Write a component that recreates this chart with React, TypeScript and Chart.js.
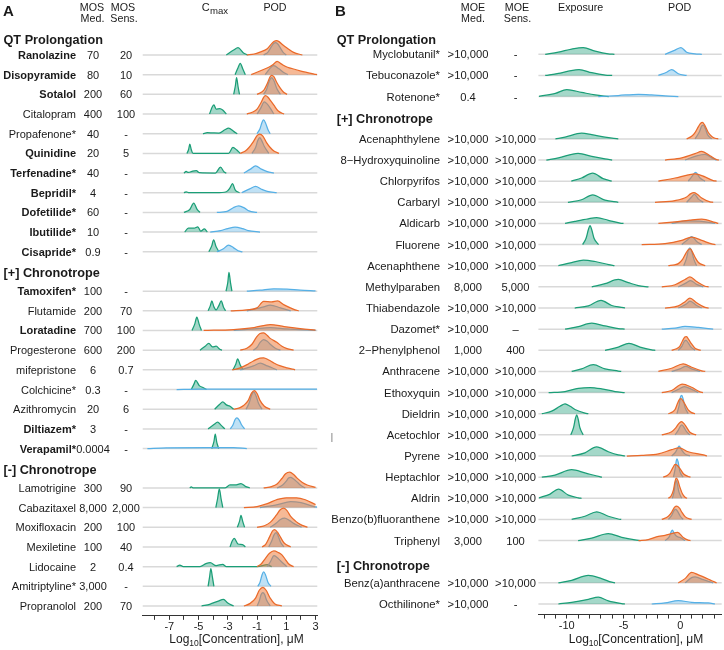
import { useEffect, useRef } from 'react';
import { Chart, registerables } from 'chart.js';

Chart.register(...registerables);

const FONT = "'Liberation Sans', Arial, Helvetica, sans-serif";

type Pt = [number, number];
type Curve = Pt[] | null;

// ---------------- Panel A data ----------------
const aSections = ['QT Prolongation', '[+] Chronotrope', '[-] Chronotrope'];
const aSectionSizes = [11, 9, 7];
const aNames = [
  'Ranolazine', 'Disopyramide', 'Sotalol', 'Citalopram', 'Propafenone*', 'Quinidine', 'Terfenadine*',
  'Bepridil*', 'Dofetilide*', 'Ibutilide*', 'Cisapride*',
  'Tamoxifen*', 'Flutamide', 'Loratadine', 'Progesterone', 'mifepristone', 'Colchicine*', 'Azithromycin',
  'Diltiazem*', 'Verapamil*',
  'Lamotrigine', 'Cabazitaxel', 'Moxifloxacin', 'Mexiletine', 'Lidocaine', 'Amitriptyline*', 'Propranolol',
];
const aBold = [
  true, true, true, false, false, true, true, true, true, true, true,
  true, false, true, false, false, false, false, true, true,
  false, false, false, false, false, false, false,
];
const aMosMed = ['70', '80', '200', '400', '40', '20', '40', '4', '60', '10', '0.9',
  '100', '200', '700', '600', '6', '0.3', '20', '3', '0.0004',
  '300', '8,000', '200', '100', '2', '3,000', '200'];
const aMosSens = ['20', '10', '60', '100', '-', '5', '-', '-', '-', '-', '-',
  '-', '70', '100', '200', '0.7', '-', '6', '-', '-',
  '90', '2,000', '100', '40', '0.4', '-', '70'];

const aCmax: Curve[] = [
  [[-3.1, 0], [-2.6, 0.25], [-2.3, 0.37], [-1.95, 0.12], [-1.65, 0]],
  [[-2.5, 0], [-2.3, 0.35], [-2.15, 0.58], [-1.98, 0.3], [-1.8, 0]],
  [[-2.6, 0], [-2.48, 0.45], [-2.4, 0.85], [-2.3, 0.4], [-2.2, 0]],
  [[-4.25, 0], [-4.05, 0.38], [-3.95, 0.46], [-3.8, 0.25], [-3.55, 0.27], [-3.35, 0.2], [-3.1, 0]],
  [[-4.7, 0], [-4.4, 0.05], [-4.05, 0.04], [-3.6, 0.03], [-3.2, 0.2], [-2.95, 0.28], [-2.6, 0.12], [-2.35, 0]],
  [[-5.8, 0], [-5.68, 0.2], [-5.6, 0.47], [-5.5, 0.2], [-5.38, 0], [-2.95, 0], [-2.65, 0.3], [-2.4, 0.18], [-2.15, 0]],
  [[-6.0, 0], [-5.85, 0.08], [-5.7, 0.03], [-5.4, 0.1], [-5.15, 0.12], [-4.95, 0.02], [-3.85, 0], [-3.5, 0.3], [-3.25, 0.05], [-3.1, 0]],
  [[-6.0, 0], [-5.85, 0.05], [-5.65, 0], [-3.8, 0], [-3.1, 0.05], [-2.85, 0.25], [-2.68, 0.46], [-2.5, 0.15], [-2.2, 0]],
  [[-6.0, 0], [-5.6, 0.15], [-5.33, 0.47], [-5.1, 0.15], [-4.9, 0]],
  [[-5.95, 0], [-5.7, 0.2], [-5.3, 0.2], [-5.05, 0.27], [-4.85, 0.05], [-4.6, 0.17], [-4.4, 0]],
  [[-4.3, 0], [-4.1, 0.3], [-3.97, 0.6], [-3.8, 0.25], [-3.6, 0]],
  [[-3.12, 0], [-3.0, 0.45], [-2.92, 0.95], [-2.82, 0.45], [-2.72, 0]],
  [[-4.35, 0], [-4.2, 0.25], [-4.09, 0.5], [-3.95, 0.2], [-3.8, 0.05], [-3.62, 0.25], [-3.45, 0.5], [-3.3, 0.2], [-3.15, 0]],
  [[-5.45, 0], [-5.25, 0.35], [-5.12, 0.68], [-4.95, 0.3], [-4.8, 0]],
  [[-4.9, 0], [-4.55, 0.2], [-4.3, 0.34], [-4.05, 0.17], [-3.8, 0.2], [-3.55, 0.05], [-3.4, 0]],
  [[-2.65, 0], [-2.45, 0.3], [-2.33, 0.56], [-2.15, 0.25], [-1.95, 0]],
  [[-5.5, 0], [-5.3, 0.3], [-5.2, 0.47], [-4.95, 0.2], [-4.7, 0.1], [-4.45, 0]],
  [[-3.9, 0], [-3.55, 0.25], [-3.35, 0.37], [-3.1, 0.22], [-2.85, 0.15], [-2.6, 0]],
  [[-4.35, 0], [-3.95, 0.22], [-3.7, 0.34], [-3.45, 0.18], [-3.2, 0]],
  [[-4.1, 0], [-3.95, 0.35], [-3.86, 0.73], [-3.75, 0.3], [-3.62, 0]],
  [[-5.6, 0], [-5.5, 0.05], [-5.35, 0], [-3.2, 0], [-2.85, 0.15], [-2.5, 0.15], [-2.1, 0.22], [-1.8, 0.08], [-1.5, 0]],
  [[-3.82, 0], [-3.7, 0.45], [-3.58, 0.95], [-3.46, 0.45], [-3.34, 0]],
  [[-2.35, 0], [-2.2, 0.3], [-2.1, 0.6], [-1.98, 0.3], [-1.85, 0]],
  [[-2.85, 0], [-2.7, 0.3], [-2.56, 0.44], [-2.3, 0.15], [-2.0, 0.12], [-1.8, 0]],
  [[-6.5, 0], [-6.28, 0.08], [-6.05, 0], [-4.9, 0], [-4.5, 0.15], [-4.2, 0.2], [-3.8, 0.05], [-3.35, 0.12], [-3.1, 0], [-1.0, 0], [-0.3, 0.1], [0.0, 0]],
  [[-4.35, 0], [-4.25, 0.45], [-4.16, 0.9], [-4.05, 0.45], [-3.95, 0]],
  [[-4.8, 0], [-4.2, 0.1], [-3.95, 0.17], [-3.65, 0.25], [-3.3, 0.34], [-3.0, 0.15], [-2.6, 0]],
];

const aPodBlue: Curve[] = [
  [[-0.55, 0], [-0.25, 0.15], [0.0, 0.45], [0.15, 0.6], [0.26, 0.63], [0.4, 0.57], [0.6, 0.35], [0.8, 0.12], [1.0, 0]],
  [[-0.45, 0], [0.14, 0.46], [0.5, 0.3], [0.85, 0.1], [1.1, 0]],
  [[-0.55, 0], [-0.35, 0.25], [-0.15, 0.7], [0.0, 0.85], [0.15, 0.7], [0.35, 0.3], [0.6, 0]],
  [[-1.0, 0], [-0.75, 0.3], [-0.5, 0.62], [-0.3, 0.5], [-0.1, 0.3], [0.15, 0]],
  [[-1.0, 0], [-0.8, 0.25], [-0.65, 0.6], [-0.55, 0.7], [-0.42, 0.55], [-0.25, 0.2], [-0.1, 0]],
  [[-1.35, 0], [-1.1, 0.3], [-0.95, 0.65], [-0.82, 0.8], [-0.68, 0.65], [-0.5, 0.35], [-0.2, 0]],
  [[-1.9, 0], [-1.45, 0.2], [-1.1, 0.37], [-0.7, 0.2], [-0.3, 0.07], [0.15, 0]],
  [[-2.05, 0], [-1.5, 0.2], [-1.1, 0.32], [-0.7, 0.18], [-0.3, 0.07], [0.35, 0]],
  [[-3.75, 0], [-3.05, 0.05], [-2.6, 0.25], [-2.25, 0.33], [-1.85, 0.22], [-1.55, 0.08], [-1.0, 0]],
  [[-4.2, 0], [-3.5, 0.08], [-3.0, 0.18], [-2.5, 0.25], [-2.0, 0.18], [-1.6, 0.08], [-0.8, 0]],
  [[-3.75, 0], [-3.3, 0.15], [-2.95, 0.34], [-2.6, 0.2], [-2.3, 0.05], [-2.0, 0]],
  [[-1.7, 0], [-0.8, 0.05], [0.15, 0.12], [1.05, 0.1], [1.95, 0.05], [3.0, 0.01]],
  [[-1.7, 0], [-0.55, 0.2], [-0.1, 0.29], [0.6, 0.15], [1.3, 0]],
  [[-2.6, 0], [-1.2, 0.08], [-0.1, 0.15], [1.05, 0.08], [3.0, 0.01]],
  [[-1.25, 0], [-1.0, 0.15], [-0.8, 0.38], [-0.55, 0.54], [-0.3, 0.45], [-0.1, 0.3], [0.25, 0.1], [0.6, 0]],
  [[-2.15, 0], [-1.25, 0.2], [-0.78, 0.34], [-0.3, 0.2], [0.35, 0]],
  [[-6.5, 0], [-5, 0.02], [-2, 0.02], [1, 0.02], [3.1, 0.02]],
  [[-1.75, 0], [-1.55, 0.3], [-1.38, 0.7], [-1.23, 0.88], [-1.08, 0.7], [-0.9, 0.3], [-0.66, 0]],
  [[-2.83, 0], [-2.65, 0.2], [-2.5, 0.48], [-2.38, 0.56], [-2.22, 0.45], [-2.05, 0.2], [-1.85, 0]],
  [[-8.5, 0], [-7.2, 0.03], [-4.4, 0.05], [-2.6, 0.05], [-1.7, 0]],
  [[0.37, 0], [0.75, 0.15], [1.0, 0.35], [1.15, 0.5], [1.3, 0.54], [1.5, 0.45], [1.74, 0.3], [2.0, 0.12], [2.3, 0]],
  [[-0.8, 0], [0.4, 0.15], [1.3, 0.3], [2.0, 0.25], [2.9, 0.05], [3.1, 0.03]],
  [[-0.1, 0], [0.3, 0.2], [0.6, 0.4], [0.88, 0.47], [1.2, 0.35], [1.5, 0.2], [2.05, 0]],
  [[-0.2, 0], [0.0, 0.3], [0.15, 0.6], [0.3, 0.73], [0.45, 0.55], [0.6, 0.25], [0.83, 0]],
  [[-0.3, 0], [-0.05, 0.3], [0.15, 0.56], [0.35, 0.48], [0.6, 0.3], [1.05, 0]],
  [[-0.95, 0], [-0.8, 0.2], [-0.65, 0.6], [-0.55, 0.73], [-0.42, 0.58], [-0.25, 0.2], [-0.05, 0]],
  [[-1.0, 0], [-0.85, 0.25], [-0.72, 0.58], [-0.6, 0.68], [-0.48, 0.58], [-0.35, 0.3], [-0.1, 0]],
];

const aPodOrange: Curve[] = [
  [[-1.7, 0], [-1.2, 0.05], [-0.8, 0.15], [-0.3, 0.32], [0.0, 0.58], [0.18, 0.7], [0.33, 0.73], [0.5, 0.68], [0.75, 0.52], [1.05, 0.35], [1.5, 0.13], [2.1, 0]],
  [[-1.4, 0], [-0.6, 0.25], [-0.2, 0.38], [0.1, 0.52], [0.37, 0.68], [0.65, 0.55], [1.0, 0.4], [1.3, 0.33], [2.0, 0.18], [2.9, 0.03], [3.1, 0]],
  [[-1.0, 0], [-0.55, 0.2], [-0.3, 0.55], [-0.12, 0.88], [0.0, 0.97], [0.15, 0.9], [0.35, 0.6], [0.6, 0.3], [0.8, 0.12], [1.05, 0]],
  [[-1.7, 0], [-1.3, 0.1], [-1.0, 0.25], [-0.75, 0.55], [-0.55, 0.85], [-0.43, 0.93], [-0.25, 0.85], [-0.05, 0.65], [0.15, 0.45], [0.45, 0.15], [0.85, 0]],
  null,
  [[-2.15, 0], [-1.8, 0.12], [-1.55, 0.3], [-1.25, 0.6], [-1.0, 0.9], [-0.82, 0.98], [-0.6, 0.88], [-0.35, 0.55], [-0.1, 0.3], [0.15, 0.12], [0.5, 0]],
  null, null, null, null, null,
  null,
  [[-2.8, 0], [-1.7, 0.05], [-1.0, 0.15], [-0.55, 0.48], [0.0, 0.45], [0.4, 0.5], [0.85, 0.3], [1.6, 0.05], [1.85, 0]],
  [[-4.65, 0], [-2.6, 0.05], [-1.2, 0.15], [-0.1, 0.3], [0.85, 0.2], [1.95, 0.1], [3.0, 0.02]],
  [[-2.15, 0], [-1.7, 0.1], [-1.35, 0.3], [-1.05, 0.65], [-0.8, 0.85], [-0.55, 0.88], [-0.3, 0.75], [-0.1, 0.6], [0.35, 0.4], [0.7, 0.2], [1.05, 0.08], [1.5, 0]],
  [[-2.7, 0], [-2.15, 0.1], [-1.6, 0.3], [-1.25, 0.45], [-0.8, 0.6], [-0.55, 0.61], [-0.2, 0.5], [0.15, 0.35], [0.6, 0.2], [1.05, 0.1], [1.6, 0]],
  null,
  [[-2.6, 0], [-2.2, 0.07], [-1.9, 0.2], [-1.6, 0.45], [-1.38, 0.82], [-1.18, 0.95], [-1.0, 0.8], [-0.8, 0.45], [-0.5, 0.15], [-0.1, 0]],
  null, null,
  [[-0.55, 0], [0.0, 0.07], [0.37, 0.2], [0.7, 0.48], [0.95, 0.72], [1.24, 0.8], [1.5, 0.68], [1.74, 0.5], [2.1, 0.28], [2.43, 0.15], [3.0, 0.03]],
  [[-1.9, 0], [-1.0, 0.05], [-0.3, 0.2], [0.4, 0.42], [1.0, 0.5], [1.7, 0.5], [2.3, 0.4], [3.0, 0.15]],
  [[-1.0, 0], [-0.5, 0.08], [-0.1, 0.25], [0.3, 0.6], [0.6, 0.9], [0.83, 0.98], [1.05, 0.85], [1.3, 0.55], [1.65, 0.3], [1.95, 0.15], [2.45, 0]],
  [[-0.65, 0], [-0.4, 0.15], [-0.15, 0.5], [0.05, 0.8], [0.2, 0.88], [0.4, 0.75], [0.6, 0.5], [0.85, 0.2], [1.3, 0]],
  [[-1.0, 0], [-0.7, 0.15], [-0.45, 0.4], [-0.15, 0.68], [0.15, 0.8], [0.45, 0.72], [0.7, 0.6], [0.95, 0.35], [1.15, 0.15], [1.5, 0]],
  null,
  [[-1.9, 0], [-1.5, 0.12], [-1.1, 0.4], [-0.85, 0.8], [-0.6, 0.95], [-0.38, 0.8], [-0.1, 0.4], [0.2, 0.12], [0.7, 0]],
];

const aTicks = [-8, -7, -6, -5, -4, -3, -2, -1, 0, 1, 2, 3];
const aTickLabels = [-7, -5, -3, -1, 1, 3];

// ---------------- Panel B data ----------------
const bSections = ['QT Prolongation', '[+] Chronotrope', '[-] Chronotrope'];
const bSectionSizes = [3, 20, 2];
const bNames = [
  'Myclobutanil*', 'Tebuconazole*', 'Rotenone*',
  'Acenaphthylene', '8\u2212Hydroxyquinoline', 'Chlorpyrifos', 'Carbaryl', 'Aldicarb', 'Fluorene',
  'Acenaphthene', 'Methylparaben', 'Thiabendazole', 'Dazomet*', '2\u2212Phenylphenol', 'Anthracene',
  'Ethoxyquin', 'Dieldrin', 'Acetochlor', 'Pyrene', 'Heptachlor', 'Aldrin', 'Benzo(b)fluoranthene', 'Triphenyl',
  'Benz(a)anthracene', 'Octhilinone*',
];
const bMoeMed = ['>10,000', '>10,000', '0.4',
  '>10,000', '>10,000', '>10,000', '>10,000', '>10,000', '>10,000',
  '>10,000', '8,000', '>10,000', '>10,000', '1,000', '>10,000',
  '>10,000', '>10,000', '>10,000', '>10,000', '>10,000', '>10,000', '>10,000', '3,000',
  '>10,000', '>10,000'];
const bMoeSens = ['-', '-', '-',
  '>10,000', '>10,000', '>10,000', '>10,000', '>10,000', '>10,000',
  '>10,000', '5,000', '>10,000', '\u2013', '400', '>10,000',
  '>10,000', '>10,000', '>10,000', '>10,000', '>10,000', '>10,000', '>10,000', '100',
  '>10,000', '-'];

const bExposure: Curve[] = [
  [[-11.9, 0], [-10.74, 0.1], [-9.57, 0.25], [-8.55, 0.32], [-7.5, 0.15], [-6.35, 0.02], [-5.8, 0]],
  [[-11.9, 0], [-10.74, 0.1], [-9.86, 0.2], [-8.92, 0.28], [-7.8, 0.13], [-6.6, 0.02], [-6.0, 0]],
  [[-12.45, 0.01], [-11.0, 0.15], [-10.0, 0.33], [-8.7, 0.2], [-7.5, 0.08], [-6.3, 0]],
  [[-11.0, 0], [-10.15, 0.08], [-8.7, 0.27], [-7.8, 0.2], [-6.63, 0.08], [-5.46, 0]],
  [[-11.8, 0], [-10.74, 0.1], [-9.0, 0.32], [-7.8, 0.17], [-6.63, 0.05], [-6.0, 0]],
  [[-9.6, 0], [-8.7, 0.15], [-7.72, 0.38], [-6.8, 0.12], [-6.04, 0]],
  [[-9.9, 0], [-8.7, 0.12], [-7.72, 0.35], [-6.63, 0.1], [-5.46, 0]],
  [[-10.15, 0], [-9.28, 0.1], [-8.1, 0.22], [-7.37, 0.27], [-6.34, 0.15], [-5.3, 0.02], [-5.0, 0]],
  [[-8.6, 0], [-8.3, 0.3], [-8.1, 0.7], [-7.95, 0.9], [-7.8, 0.7], [-7.6, 0.3], [-7.2, 0]],
  [[-10.74, 0], [-9.57, 0.15], [-8.54, 0.27], [-7.5, 0.2], [-6.3, 0.05], [-5.8, 0]],
  [[-7.8, 0], [-6.63, 0.15], [-5.46, 0.35], [-4.58, 0.2], [-3.69, 0.06], [-2.8, 0]],
  [[-9.3, 0], [-8.1, 0.1], [-6.98, 0.36], [-6.04, 0.12], [-5.0, 0.02], [-4.87, 0]],
  [[-10.15, 0], [-8.98, 0.12], [-7.8, 0.28], [-6.63, 0.15], [-5.46, 0.03], [-4.9, 0]],
  [[-6.63, 0], [-5.46, 0.15], [-4.52, 0.33], [-3.55, 0.15], [-2.52, 0.02], [-2.2, 0]],
  [[-9.57, 0], [-8.7, 0.12], [-7.66, 0.32], [-6.63, 0.12], [-5.46, 0.02], [-5.2, 0]],
  [[-11.6, 0], [-10.15, 0.05], [-8.98, 0.2], [-7.95, 0.24], [-6.93, 0.18], [-5.75, 0.05], [-4.9, 0]],
  [[-12.2, 0], [-11.33, 0.12], [-10.6, 0.35], [-10.15, 0.47], [-9.7, 0.35], [-9.28, 0.2], [-8.4, 0.03], [-8.1, 0]],
  [[-9.65, 0], [-9.4, 0.35], [-9.25, 0.75], [-9.13, 0.95], [-9.0, 0.75], [-8.85, 0.35], [-8.55, 0]],
  [[-9.57, 0], [-8.4, 0.15], [-7.37, 0.43], [-6.34, 0.2], [-5.46, 0.05], [-4.87, 0]],
  [[-12.2, 0], [-11.04, 0.1], [-9.57, 0.35], [-8.4, 0.2], [-7.1, 0.02], [-6.9, 0]],
  [[-12.45, 0.02], [-11.47, 0.2], [-10.74, 0.43], [-9.86, 0.15], [-8.98, 0.02], [-8.7, 0]],
  [[-9.57, 0], [-8.4, 0.15], [-7.37, 0.36], [-6.34, 0.15], [-5.46, 0.02], [-5.2, 0]],
  [[-9.0, 0], [-7.8, 0.12], [-6.34, 0.33], [-5.16, 0.15], [-3.98, 0.03], [-3.5, 0]],
  [[-10.74, 0], [-9.57, 0.12], [-8.1, 0.35], [-6.93, 0.2], [-6.04, 0.03], [-5.75, 0]],
  [[-10.74, 0], [-9.57, 0.08], [-8.1, 0.22], [-7.22, 0.32], [-6.34, 0.15], [-5.16, 0.02], [-4.87, 0]],
];

const bPodBlue: Curve[] = [
  [[-1.34, 0], [-0.46, 0.2], [0.06, 0.32], [0.56, 0.1], [1.3, 0.02], [1.9, 0]],
  [[-1.93, 0], [-1.2, 0.15], [-0.76, 0.28], [-0.17, 0.08], [0.56, 0]],
  [[-7.22, 0], [-5.46, 0.05], [-3.69, 0.11], [-2.52, 0.08], [-1.34, 0.03], [-0.17, 0]],
  [[1.3, 0], [1.7, 0.35], [1.88, 0.6], [2.03, 0.65], [2.2, 0.5], [2.4, 0.2], [2.77, 0]],
  [[0.42, 0], [1.45, 0.2], [2.18, 0.27], [2.77, 0.1], [3.2, 0]],
  [[0.7, 0], [1.0, 0.2], [1.35, 0.41], [1.74, 0.15], [2.18, 0]],
  [[0.56, 0], [1.0, 0.25], [1.25, 0.38], [1.6, 0.15], [2.03, 0]],
  [[-0.76, 0], [0.7, 0.12], [1.89, 0.1], [3.06, 0]],
  [[0.13, 0], [0.7, 0.25], [1.0, 0.38], [1.44, 0.15], [1.89, 0]],
  [[0.3, 0], [0.55, 0.35], [0.72, 0.75], [0.85, 0.85], [1.0, 0.7], [1.2, 0.3], [1.44, 0]],
  [[-0.17, 0], [0.56, 0.2], [0.9, 0.3], [1.44, 0.12], [2.03, 0]],
  [[-0.17, 0], [0.56, 0.2], [0.85, 0.33], [1.44, 0.12], [1.89, 0]],
  [[-1.63, 0], [-0.46, 0.05], [0.42, 0.13], [1.59, 0.08], [2.9, 0]],
  [[-0.17, 0], [0.15, 0.2], [0.35, 0.42], [0.5, 0.47], [0.7, 0.35], [0.95, 0.15], [1.3, 0]],
  [[-0.76, 0], [-0.03, 0.12], [0.48, 0.24], [1.0, 0.12], [1.74, 0]],
  [[-0.76, 0], [-0.17, 0.15], [0.35, 0.28], [1.0, 0.15], [1.59, 0]],
  [[-0.3, 0], [-0.1, 0.4], [0.02, 0.8], [0.13, 0.87], [0.25, 0.7], [0.42, 0.3], [0.7, 0]],
  [[-0.46, 0], [-0.2, 0.2], [0.0, 0.4], [0.13, 0.47], [0.3, 0.38], [0.55, 0.15], [0.85, 0]],
  [[-0.76, 0], [-0.4, 0.2], [-0.2, 0.4], [-0.1, 0.47], [0.1, 0.3], [0.4, 0.1], [0.85, 0]],
  [[-0.6, 0], [-0.45, 0.4], [-0.35, 0.78], [-0.28, 0.87], [-0.18, 0.7], [-0.05, 0.3], [0.26, 0]],
  [[-0.7, 0], [-0.55, 0.3], [-0.45, 0.7], [-0.37, 0.85], [-0.27, 0.7], [-0.12, 0.3], [0.13, 0]],
  [[-1.05, 0], [-0.75, 0.2], [-0.55, 0.42], [-0.4, 0.47], [-0.2, 0.35], [0.0, 0.15], [0.26, 0]],
  [[-1.34, 0], [-0.95, 0.2], [-0.8, 0.42], [-0.7, 0.5], [-0.55, 0.35], [-0.32, 0.2], [-0.03, 0.15], [0.42, 0]],
  [[0.42, 0], [1.0, 0.25], [1.3, 0.28], [2.03, 0.15], [2.9, 0]],
  [[-2.52, 0], [-1.34, 0.05], [-0.17, 0.16], [1.0, 0.08], [2.47, 0.05], [3.06, 0]],
];

const bPodOrange: Curve[] = [
  null, null, null,
  [[0.56, 0], [1.0, 0.12], [1.3, 0.3], [1.6, 0.58], [1.8, 0.74], [1.95, 0.78], [2.15, 0.65], [2.47, 0.3], [2.8, 0.1], [3.06, 0.03], [3.35, 0]],
  [[-1.34, 0], [0.13, 0.1], [1.3, 0.3], [1.89, 0.41], [2.62, 0.2], [3.2, 0.02], [3.4, 0]],
  [[-1.93, 0], [-0.46, 0.15], [0.7, 0.3], [1.3, 0.35], [2.18, 0.2], [2.9, 0.03], [3.2, 0]],
  [[-2.23, 0], [-0.46, 0.08], [0.56, 0.25], [0.9, 0.4], [1.2, 0.46], [1.5, 0.38], [1.89, 0.2], [2.62, 0.02], [2.9, 0]],
  [[-1.93, 0], [-0.46, 0.08], [0.85, 0.16], [1.89, 0.2], [3.06, 0.05], [3.35, 0]],
  [[-3.4, 0], [-1.34, 0.05], [0.13, 0.2], [1.0, 0.35], [1.89, 0.2], [2.77, 0.03], [3.1, 0]],
  [[-1.05, 0], [-0.5, 0.04], [-0.17, 0.1], [0.2, 0.3], [0.5, 0.6], [0.75, 0.78], [0.9, 0.8], [1.1, 0.62], [1.3, 0.4], [1.6, 0.15], [2.2, 0]],
  [[-1.63, 0], [-0.46, 0.1], [0.42, 0.35], [0.85, 0.47], [1.44, 0.25], [2.18, 0.03], [2.5, 0]],
  [[-1.34, 0], [-0.17, 0.1], [0.42, 0.3], [0.85, 0.47], [1.44, 0.25], [2.18, 0.03], [2.5, 0]],
  null,
  [[-0.76, 0], [-0.35, 0.07], [-0.03, 0.2], [0.2, 0.45], [0.4, 0.63], [0.55, 0.65], [0.75, 0.5], [1.0, 0.3], [1.3, 0.1], [1.8, 0]],
  [[-1.93, 0], [-0.76, 0.15], [0.26, 0.36], [1.0, 0.2], [1.89, 0.03], [2.2, 0]],
  [[-1.63, 0], [-0.76, 0.1], [0.18, 0.4], [1.0, 0.25], [1.74, 0.03], [2.0, 0]],
  [[-1.05, 0], [-0.7, 0.08], [-0.46, 0.2], [-0.25, 0.48], [-0.1, 0.66], [0.05, 0.71], [0.25, 0.6], [0.42, 0.45], [0.7, 0.18], [1.0, 0.05], [1.3, 0]],
  [[-1.63, 0], [-0.76, 0.15], [-0.4, 0.33], [-0.15, 0.52], [0.1, 0.63], [0.35, 0.52], [0.56, 0.35], [0.85, 0.12], [1.4, 0]],
  [[-4.7, 0], [-3.4, 0.03], [-1.93, 0.1], [-0.76, 0.3], [-0.1, 0.39], [0.7, 0.2], [2.05, 0.05], [2.35, 0]],
  [[-1.5, 0], [-1.15, 0.08], [-0.9, 0.2], [-0.65, 0.45], [-0.45, 0.6], [-0.25, 0.55], [0.0, 0.38], [0.3, 0.15], [0.7, 0.03], [0.9, 0]],
  [[-1.05, 0], [-0.8, 0.12], [-0.6, 0.4], [-0.48, 0.75], [-0.37, 0.95], [-0.22, 0.85], [-0.05, 0.55], [0.2, 0.2], [0.42, 0.05], [0.6, 0]],
  [[-1.63, 0], [-1.05, 0.15], [-0.75, 0.35], [-0.5, 0.58], [-0.3, 0.63], [-0.05, 0.52], [0.13, 0.35], [0.45, 0.12], [1.0, 0]],
  [[-3.69, 0], [-2.82, 0.05], [-1.93, 0.2], [-1.34, 0.25], [-0.76, 0.33], [-0.23, 0.39], [0.26, 0.15], [0.7, 0.02], [0.9, 0]],
  [[-0.17, 0], [0.42, 0.2], [1.0, 0.5], [1.59, 0.38], [2.18, 0.25], [2.77, 0.1], [3.2, 0]],
  null,
];

const bTicks = [-12, -11, -10, -9, -8, -7, -6, -5, -4, -3, -2, -1, 0, 1, 2, 3];
const bTickLabels = [-10, -5, 0];

// ---------------- styles ----------------
const GREEN_LINE = '#1b9e77';
const GREEN_FILL = 'rgba(27,158,119,0.4)';
const BLUE_LINE = '#56b0e6';
const BLUE_FILL = 'rgba(86,176,230,0.38)';
const ORANGE_LINE = '#ea6a2a';
const ORANGE_FILL = 'rgba(238,115,45,0.5)';
const BASE_GRID = '#d9d9d9';
const TEXT = '#1a1a1a';

interface Layout {
  xMin: number; xMax: number; yMin: number; yMax: number;
  padLeft: number; padRight: number; padTop: number; axisH: number;
  nameRight: number; nameSize: number; valSize: number; medX: number; sensX: number;
  headerX: number; headerSize: number; headerOffsets: number[];
  letter: string; letterX: number;
  colHeads: { text: string; x: number; y: number }[];
  titleX: number;
}

interface Panel {
  sections: string[]; sizes: number[]; names: string[]; bold: boolean[];
  med: string[]; sens: string[];
  green: Curve[]; blue: Curve[]; orange: Curve[];
  ticks: number[]; tickLabels: number[];
  lay: Layout;
  extra?: (ctx: CanvasRenderingContext2D) => void;
}

const panelA: Panel = {
  sections: aSections, sizes: aSectionSizes, names: aNames, bold: aBold,
  med: aMosMed, sens: aMosSens, green: aCmax, blue: aPodBlue, orange: aPodOrange,
  ticks: aTicks, tickLabels: aTickLabels,
  lay: {
    xMin: -8.82, xMax: 3.12, yMin: -1.5, yMax: 29.5,
    padLeft: 142.7, padRight: 724 - 317.3, padTop: 5.8, axisH: 34.16,
    nameRight: 76, nameSize: 11, valSize: 11, medX: 93, sensX: 126,
    headerX: 3.5, headerSize: 12.7, headerOffsets: [9, 6, 6],
    letter: 'A', letterX: 3,
    colHeads: [
      { text: 'MOS', x: 92, y: 11 }, { text: 'Med.', x: 92.5, y: 21.5 },
      { text: 'MOS', x: 123, y: 11 }, { text: 'Sens.', x: 124, y: 21.5 },
      { text: 'POD', x: 275, y: 10.8 },
    ],
    titleX: 236.5,
  },
};

const panelB: Panel = {
  sections: bSections, sizes: bSectionSizes, names: bNames, bold: bNames.map(() => false),
  med: bMoeMed, sens: bMoeSens, green: bExposure, blue: bPodBlue, orange: bPodOrange,
  ticks: bTicks, tickLabels: bTickLabels,
  lay: {
    xMin: -12.5, xMax: 3.65, yMin: -1.2, yMax: 27.5,
    padLeft: 538.4, padRight: 2.3, padTop: 7.8, axisH: 35.43,
    nameRight: 440, nameSize: 11.3, valSize: 11.2, medX: 468, sensX: 515.5,
    headerX: 336.7, headerSize: 12.7, headerOffsets: [11, 5, 8.6],
    letter: 'B', letterX: 335,
    colHeads: [
      { text: 'MOE', x: 473, y: 11 }, { text: 'Med.', x: 473, y: 21.5 },
      { text: 'MOE', x: 517, y: 11 }, { text: 'Sens.', x: 517.5, y: 21.5 },
      { text: 'Exposure', x: 580.7, y: 10.8 }, { text: 'POD', x: 679.7, y: 10.8 },
    ],
    titleX: 636,
  },
};

function buildRows(sizes: number[]) {
  const headerRows: number[] = [];
  const compRows: number[] = [];
  let r = 0;
  sizes.forEach((n) => {
    headerRows.push(r);
    r++;
    for (let i = 0; i < n; i++) { compRows.push(r); r++; }
  });
  return { headerRows, compRows };
}

function makeChart(canvas: HTMLCanvasElement, p: Panel, isA: boolean) {
  const { headerRows, compRows } = buildRows(p.sizes);
  const datasets: any[] = [];
  let k = 0;
  p.names.forEach((_, i) => {
    const row = compRows[i];
    const series: [Curve, string, string][] = [
      [p.green[i], GREEN_LINE, GREEN_FILL],
      [p.blue[i], BLUE_LINE, BLUE_FILL],
      [p.orange[i], ORANGE_LINE, ORANGE_FILL],
    ];
    series.forEach(([c, line, fill]) => {
      if (!c) return;
      datasets.push({
        data: c.map(([x, h]) => ({ x, y: row - h })),
        borderColor: line,
        backgroundColor: fill,
        borderWidth: 1.25,
        pointRadius: 0,
        cubicInterpolationMode: 'monotone',
        fill: { value: row },
        order: -(k++),
        clip: false,
      });
    });
  });

  const L = p.lay;
  const decor = {
    id: 'decor',
    beforeDatasetsDraw(chart: any) {
      const { ctx, chartArea, scales } = chart;
      ctx.save();
      ctx.strokeStyle = BASE_GRID;
      ctx.lineWidth = 1.5;
      compRows.forEach((r) => {
        const y = scales.y.getPixelForValue(r);
        ctx.beginPath();
        ctx.moveTo(chartArea.left, y);
        ctx.lineTo(chartArea.right, y);
        ctx.stroke();
      });
      ctx.restore();
    },
    afterDraw(chart: any) {
      const { ctx, scales } = chart;
      ctx.save();
      ctx.fillStyle = TEXT;
      ctx.textBaseline = 'alphabetic';
      ctx.font = `bold 15px ${FONT}`;
      ctx.textAlign = 'left';
      ctx.fillText(L.letter, L.letterX, 15.5);
      ctx.font = `10.7px ${FONT}`;
      ctx.textAlign = 'center';
      L.colHeads.forEach((h) => ctx.fillText(h.text, h.x, h.y));
      if (isA) {
        ctx.textAlign = 'left';
        ctx.font = `11px ${FONT}`;
        ctx.fillText('C', 201.7, 11.3);
        ctx.font = `9.6px ${FONT}`;
        ctx.fillText('max', 210, 14);
      }
      ctx.textAlign = 'left';
      ctx.font = `bold ${L.headerSize}px ${FONT}`;
      p.sections.forEach((s, i) => {
        const y = scales.y.getPixelForValue(headerRows[i]) + L.headerOffsets[i];
        ctx.fillText(s, L.headerX, y);
      });
      p.names.forEach((n, i) => {
        const y = scales.y.getPixelForValue(compRows[i]) + 4;
        ctx.textAlign = 'right';
        ctx.font = `${p.bold[i] ? 'bold ' : ''}${L.nameSize}px ${FONT}`;
        ctx.fillText(n, L.nameRight, y);
        ctx.textAlign = 'center';
        ctx.font = `${L.valSize}px ${FONT}`;
        ctx.fillText(p.med[i], L.medX, y);
        ctx.fillText(p.sens[i], L.sensX, y);
      });
      const big = `12px ${FONT}`;
      const small = `8.5px ${FONT}`;
      ctx.font = big;
      const w1 = ctx.measureText('Log').width;
      const w3 = ctx.measureText('[Concentration], \u03bcM').width;
      ctx.font = small;
      const w2 = ctx.measureText('10').width;
      let x = L.titleX - (w1 + w2 + w3) / 2;
      const by = 643;
      ctx.textAlign = 'left';
      ctx.font = big;
      ctx.fillText('Log', x, by);
      x += w1;
      ctx.font = small;
      ctx.fillText('10', x, by + 3);
      x += w2;
      ctx.font = big;
      ctx.fillText('[Concentration], \u03bcM', x, by);
      if (p.extra) p.extra(ctx);
      ctx.restore();
    },
  };

  return new Chart(canvas, {
    type: 'line',
    data: { datasets },
    options: {
      animation: false,
      responsive: false,
      maintainAspectRatio: false,
      events: [],
      layout: { padding: { left: L.padLeft, right: L.padRight, top: L.padTop, bottom: 0 } },
      plugins: {
        legend: { display: false },
        tooltip: { enabled: false },
        filler: { propagate: false },
      },
      scales: {
        x: {
          type: 'linear',
          min: L.xMin,
          max: L.xMax,
          afterBuildTicks: (s: any) => { s.ticks = p.ticks.map((v) => ({ value: v })); },
          afterFit: (s: any) => { s.height = L.axisH; },
          grid: { drawOnChartArea: false, drawTicks: true, tickLength: 4, tickColor: '#333', tickWidth: 1 },
          border: { display: true, color: '#333', width: 1 },
          ticks: {
            autoSkip: false, maxRotation: 0, minRotation: 0, padding: 1,
            color: '#222', font: { size: 11, family: FONT },
            callback: (v: any) => (p.tickLabels.includes(Number(v)) ? String(v) : ''),
          },
        },
        y: { type: 'linear', display: false, reverse: true, min: L.yMin, max: L.yMax },
      },
    },
    plugins: [decor],
  } as any);
}

panelB.extra = (ctx) => {
  ctx.fillStyle = '#666';
  ctx.font = `9px ${FONT}`;
  ctx.textAlign = 'left';
  ctx.fillText('|', 330.8, 440);
};

export default function App() {
  const refA = useRef<HTMLCanvasElement>(null);
  const refB = useRef<HTMLCanvasElement>(null);
  useEffect(() => {
    document.body.style.margin = '0';
    Chart.defaults.font.family = FONT;
    const ca = makeChart(refA.current!, panelA, true);
    const cb = makeChart(refB.current!, panelB, false);
    return () => { ca.destroy(); cb.destroy(); };
  }, []);
  const st: any = { position: 'absolute', left: 0, top: 0, width: 724, height: 650 };
  return (
    <div style={{ position: 'absolute', left: 0, top: 0, width: 724, height: 650, background: '#fff' }}>
      <canvas ref={refA} width={724} height={650} style={st} />
      <canvas ref={refB} width={724} height={650} style={st} />
    </div>
  );
}
